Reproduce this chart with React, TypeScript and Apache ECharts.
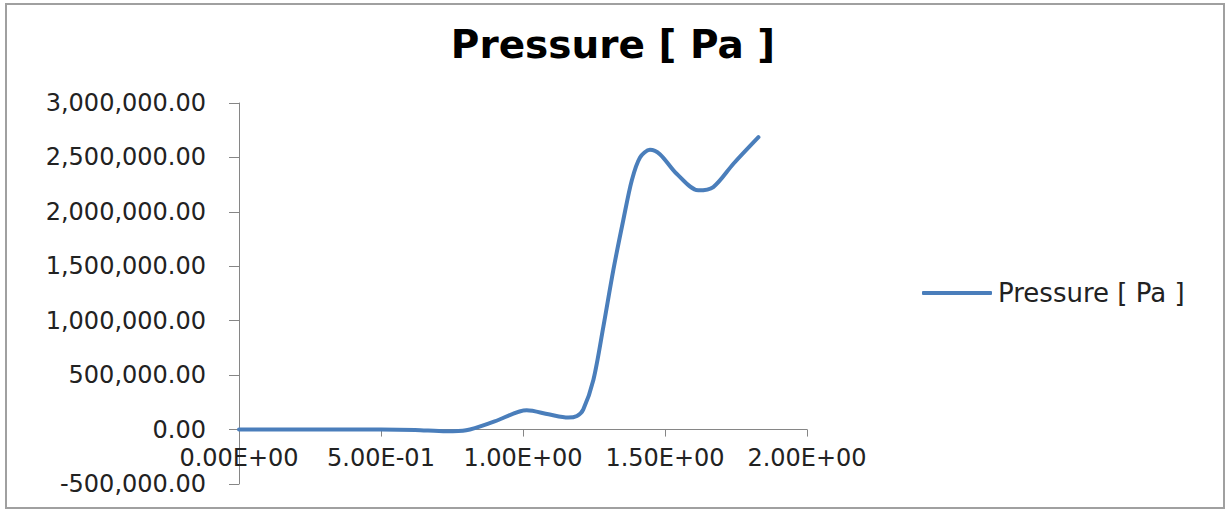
import React, { useEffect, useRef } from "react";
import * as echarts from "echarts";

const seriesName = "Pressure [ Pa ]";
const titleText = "Pressure [ Pa ]";

const xValues = [
  0, 0.25, 0.5, 0.62, 0.73, 0.8, 0.9, 1.013, 1.09, 1.159, 1.19, 1.212, 1.248,
  1.283, 1.318, 1.353, 1.383, 1.412, 1.447, 1.482, 1.541, 1.617, 1.67, 1.741,
  1.829,
];
const yValues = [
  0, 0, 0, -4000, -16000, -6000, 75000, 177000, 140000, 110000, 125000, 183000,
  458000, 946000, 1465000, 1923000, 2289000, 2500000, 2570000, 2530000,
  2350000, 2198000, 2228000, 2442000, 2686000,
];

const yMin = -500000;
const yMax = 3000000;
const yInterval = 500000;
const xMin = 0;
const xMax = 2;
const xInterval = 0.5;

const gridTop = 103;
const gridBottom = 26;
const chartHeight = 510;
// distance from the bottom of the plot to the y = 0 line, from the y range
const zeroOffset =
  ((chartHeight - gridTop - gridBottom) * (0 - yMin)) / (yMax - yMin);

function fmtY(v: number): string {
  const sign = v < 0 ? "-" : "";
  const s = Math.abs(v).toFixed(2);
  const [ip, dp] = s.split(".");
  const withCommas = ip.replace(/\B(?=(\d{3})+(?!\d))/g, ",");
  return `${sign}${withCommas}.${dp}`;
}

function fmtX(v: number): string {
  if (v === 0) return "0.00E+00";
  const e = Math.floor(Math.log10(Math.abs(v)) + 1e-9);
  const m = v / Math.pow(10, e);
  const es = (e < 0 ? "-" : "+") + String(Math.abs(e)).padStart(2, "0");
  return `${m.toFixed(2)}E${es}`;
}

export default function App() {
  const ref = useRef<HTMLDivElement>(null);
  useEffect(() => {
    if (!ref.current) return;
    const chart = echarts.init(ref.current, undefined, { renderer: "svg" });
    const font = "DejaVu Sans";
    chart.setOption({
      animation: false,
      backgroundColor: "#ffffff",
      title: {
        text: titleText,
        left: "center",
        top: 20,
        textStyle: {
          fontFamily: font,
          fontWeight: "bold",
          fontSize: 39,
          color: "#000000",
        },
      },
      legend: {
        left: 917,
        top: 275,
        icon: "roundRect",
        itemWidth: 70,
        itemHeight: 4,
        itemGap: 6,
        textStyle: { fontFamily: font, fontSize: 26, color: "#222222", padding: [0, 0, 0, 1] },
        data: [seriesName],
      },
      graphic: [
        {
          type: "rect",
          shape: { x: 6, y: 4, width: 1218, height: 504 },
          style: { fill: "none", stroke: "#a0a0a0", lineWidth: 2 },
          silent: true,
        },
      ],
      grid: {
        left: 239,
        right: 419,
        top: gridTop,
        bottom: gridBottom,
        containLabel: false,
        outerBoundsMode: "none",
      },
      xAxis: {
        type: "value",
        min: xMin,
        max: xMax,
        interval: xInterval,
        offset: -zeroOffset,
        axisLine: {
          show: true,
          onZero: false,
          lineStyle: { color: "#868686", width: 1 },
        },
        axisTick: { show: true, length: 7, inside: false, lineStyle: { color: "#868686" } },
        axisLabel: {
          formatter: (v: number) => fmtX(v),
          fontFamily: font,
          fontSize: 24,
          color: "#222222",
          margin: 16,
        },
        splitLine: { show: false },
      },
      yAxis: {
        type: "value",
        min: yMin,
        max: yMax,
        interval: yInterval,
        axisLine: { show: true, onZero: false, lineStyle: { color: "#868686", width: 1 } },
        axisTick: { show: true, length: 10, lineStyle: { color: "#868686" } },
        axisLabel: {
          formatter: (v: number) => fmtY(v),
          fontFamily: font,
          fontSize: 24,
          color: "#222222",
          margin: 33,
        },
        splitLine: { show: false },
      },
      series: [
        {
          name: seriesName,
          type: "line",
          data: xValues.map((x, i) => [x, yValues[i]]),
          smooth: 0.3,
          symbol: "none",
          showSymbol: false,
          lineStyle: { color: "#4a7ebb", width: 4, cap: "round", join: "round" },
          itemStyle: { color: "#4a7ebb" },
        },
      ],
    });
    return () => chart.dispose();
  }, []);
  return (
    <div
      ref={ref}
      style={{ position: "fixed", left: 0, top: 0, width: 1226, height: 510 }}
    />
  );
}
